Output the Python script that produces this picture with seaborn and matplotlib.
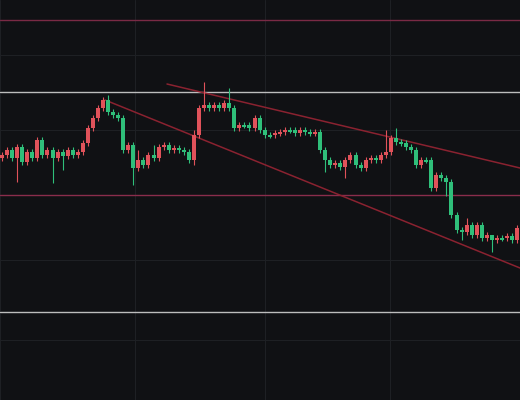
import matplotlib
matplotlib.use("Agg")
import matplotlib.pyplot as plt
import seaborn as sns
import numpy as np
import pandas as pd

sns.set_style("dark")

# closing prices (chart units, higher = lower on screen since axis inverted)
closes = [155,150,158,147,162,152,158,140,155,150,158,152,156,150,155,152,143,128,118,108,100,112,115,118,150,145,168,160,165,155,158,147,145,150,148,150,152,160,135,108,105,108,105,108,103,108,128,125,125,128,118,130,135,135,133,132,130,130,133,130,132,133,132,150,160,165,163,167,160,155,165,168,160,158,160,155,152,138,142,143,147,150,165,160,160,188,175,178,182,215,230,232,225,235,225,238,235,240,238,238,236,240,228,230]
first_open = 158
# notable wick extremes: index -> (top, bottom)
wick_top = {38: 130, 40: 82, 45: 88, 21: 95, 27: 150, 30: 145, 76: 130, 78: 128, 80: 140, 92: 218, 97: 235}
wick_bot = {3: 182, 10: 183, 26: 185, 12: 170, 38: 165, 64: 172, 68: 178, 88: 196, 91: 240, 97: 252}

hlines = [(20, "#7a2a45"), (92, "#bdbdbd"), (195, "#8a2d4c"), (312, "#bdbdbd")]
trend = [((167, 84), (520, 168)), ((105, 100), (520, 268))]

opens = [first_open] + closes[:-1]
df = pd.DataFrame({"open": opens, "close": closes})
df["x"] = np.arange(len(df)) * 5.05 + 2

fig = plt.figure(figsize=(5.2, 4.0), dpi=100)
ax = fig.add_axes([0, 0, 1, 1])
bg = "#101114"
fig.patch.set_facecolor(bg)
ax.set_facecolor(bg)

for g in [55, 130, 260, 340]:
    ax.axhline(g, color="#1e2024", lw=0.8, zorder=0)
for g in [0, 135, 265, 390, 520]:
    ax.axvline(g, color="#1e2024", lw=0.8, zorder=0)

up, down = "#e0525a", "#2fbf7a"
for i, r in df.iterrows():
    top = min(r.open, r.close); bot = max(r.open, r.close)
    col = up if r.close < r.open else down
    wt = wick_top.get(i, top - 3); wb = wick_bot.get(i, bot + 3)
    ax.vlines(r.x, wt, wb, color=col, lw=0.8, zorder=3)
    h = max(bot - top, 1.5)
    ax.bar(r.x, h, bottom=top, width=4.0, color=col, zorder=4, linewidth=0)

for y, c in hlines:
    ax.axhline(y, color=c, lw=1.0, zorder=2)
for (x0, y0), (x1, y1) in trend:
    ax.plot([x0, x1], [y0, y1], color="#8a2230", lw=1.1, zorder=2)

ax.set_xlim(0, 520)
ax.set_ylim(400, 0)
ax.set_xticks([]); ax.set_yticks([])
for s in ax.spines.values():
    s.set_visible(False)
fig.savefig("out.png", dpi=100, facecolor=bg)
